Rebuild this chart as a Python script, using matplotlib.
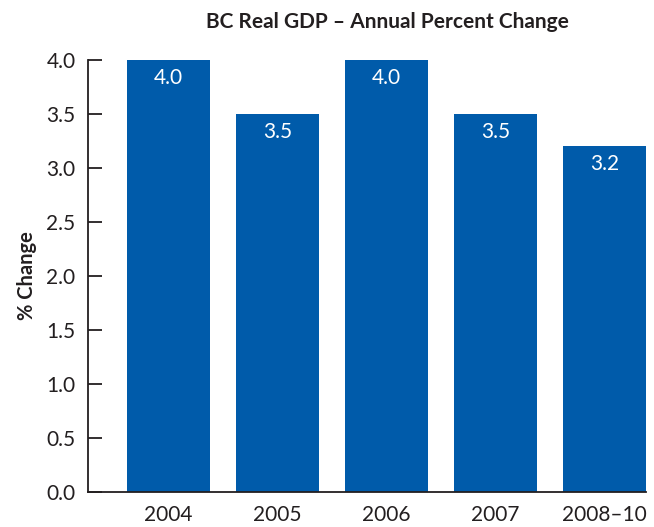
import matplotlib.pyplot as plt

plt.rcParams["font.family"] = ["Lato", "DejaVu Sans"]

# values
years = ["2004", "2005", "2006", "2007", "2008\u201310"]
gdp_change = [4.0, 3.5, 4.0, 3.5, 3.2]
value_labels = ["4.0", "3.5", "4.0", "3.5", "3.2"]
y_ticks = [0.0, 0.5, 1.0, 1.5, 2.0, 2.5, 3.0, 3.5, 4.0]

BLUE = "#005BAA"
INK = "#231F20"

fig = plt.figure(figsize=(6.54, 5.27), dpi=100)
ax = fig.add_axes([0.1346, 0.0664, 0.8532, 0.8197])

x = list(range(len(years)))
bars = ax.bar(x, gdp_change, width=0.76, color=BLUE, linewidth=0)

for rect, txt in zip(bars, value_labels):
    ax.annotate(txt, (rect.get_x() + rect.get_width() / 2, rect.get_height()),
                xytext=(0, -13), textcoords="offset points",
                ha="center", va="center", color="white", fontsize=15)

ax.set_xlim(-0.74, len(years) - 1 + 0.38)
ax.set_ylim(0, 4.0)
ax.set_xticks(x)
ax.set_xticklabels(years)
ax.set_yticks(y_ticks)
ax.set_yticklabels([f"{v:.1f}" for v in y_ticks])

for side in ("top", "right"):
    ax.spines[side].set_visible(False)
for side in ("left", "bottom"):
    ax.spines[side].set_color(INK)
    ax.spines[side].set_linewidth(1.3)

ax.tick_params(axis="y", direction="in", length=10, width=1.3, color=INK,
               labelsize=15, labelcolor=INK, pad=9)
ax.tick_params(axis="x", length=0, labelsize=15, labelcolor=INK, pad=9)

ax.set_ylabel("% Change", fontsize=14.5, fontweight="bold", color=INK, labelpad=7)
fig.text(0.593, 0.958, "BC Real GDP \u2013 Annual Percent Change", ha="center",
         va="center", fontsize=15, fontweight="bold", color=INK)

fig.savefig("out.png", dpi=100)
